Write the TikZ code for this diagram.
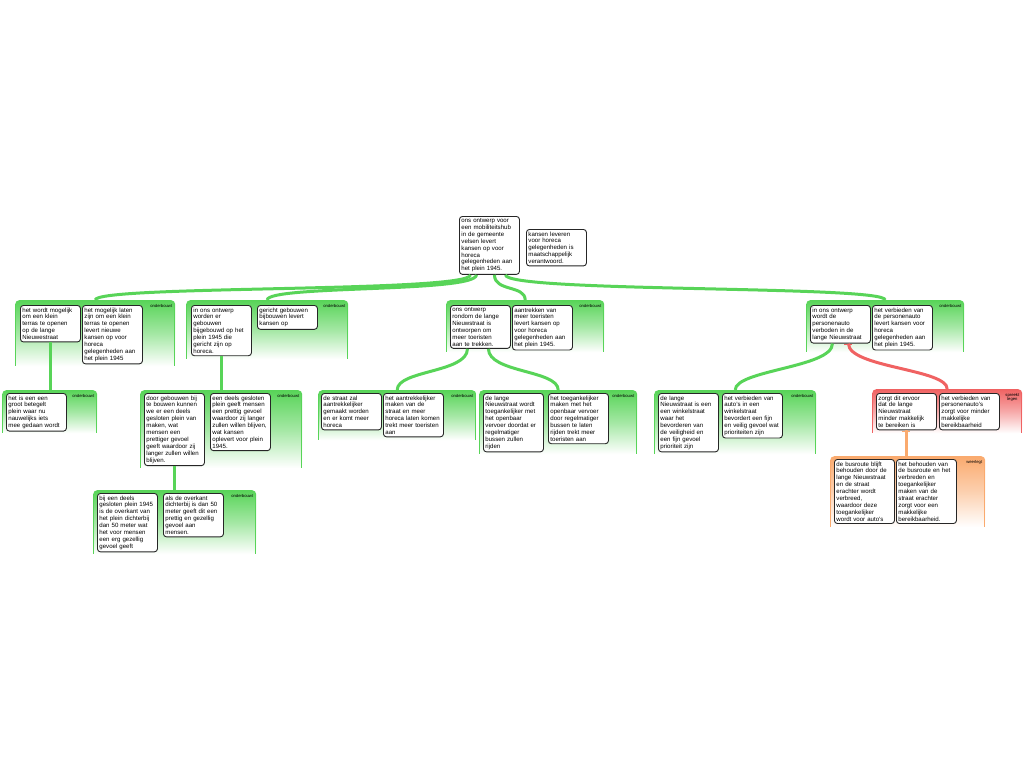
\documentclass[tikz,border=0pt]{standalone}
\usepackage{fontspec}
\setmainfont{Liberation Sans}
\definecolor{grn}{RGB}{88,212,88}
\definecolor{rd}{RGB}{240,98,98}
\definecolor{org}{RGB}{250,170,110}
\tikzset{
  box/.style={draw=black!85, line width=0.9pt, rounded corners=3pt, fill=white,
    inner xsep=2pt, inner ysep=2.2pt, text width=56pt, align=left, anchor=north west,
    font=\fontsize{6.1}{6.9}\selectfont},
  grp/.style={anchor=north west, rounded corners=4pt, inner sep=0pt,
    top color=#1, bottom color=white, middle color=#1!55},
  lbl/.style={font=\fontsize{4.2}{4.6}\selectfont, inner sep=0pt, align=center},
  conn/.style={draw=#1, line width=3pt},
  tick/.style={draw=#1, line width=1pt}
}
\newcommand\mkgrp[7]{%
  \node[grp=#6, minimum width=#4pt, minimum height=#5pt] (#1) at (#2,#3) {};
  \draw[#6, line width=1.2pt] ([xshift=0.6pt,yshift=-4pt]#1.north west) -- ([xshift=0.6pt]#1.south west)
    ([xshift=-0.6pt,yshift=-4pt]#1.north east) -- ([xshift=-0.6pt]#1.south east);
  \node[lbl, anchor=north east] (#1l) at ([xshift=-3pt,yshift=-4pt]#1.north east) {#7};
}
\begin{document}
\begin{tikzpicture}[x=1pt, y=-1pt]
\useasboundingbox[fill=white] (0,0) rectangle (1024,768);

% groups
\mkgrp{gA}{15}{300}{160}{66}{grn}{onderbouwt}
\mkgrp{gB}{186}{300}{162}{59}{grn}{onderbouwt}
\mkgrp{gC}{446}{300}{158}{52}{grn}{onderbouwt}
\mkgrp{gD}{806}{300}{158}{52}{grn}{onderbouwt}
\mkgrp{gE}{2}{390}{95}{43}{grn}{onderbouwt}
\mkgrp{gF}{140}{390}{162}{78}{grn}{onderbouwt}
\mkgrp{gG}{318}{390}{158}{50}{grn}{onderbouwt}
\mkgrp{gH}{479}{390}{158}{64}{grn}{onderbouwt}
\mkgrp{gI}{654}{390}{162}{64}{grn}{onderbouwt}
\mkgrp{gJ}{872}{389}{150}{44}{rd}{spreekt\\tegen}
\mkgrp{gK}{830}{456}{155}{71}{org}{weerlegt}
\mkgrp{gL}{93}{490}{163}{64}{grn}{onderbouwt}

% boxes
\node[box] (t1) at (459,216) {ons ontwerp voor\\een mobiliteitshub\\in de gemeente\\velsen levert\\kansen op voor\\horeca\\gelegenheden aan\\het plein 1945.};
\node[box] (t2) at (526,229) {kansen leveren\\voor horeca\\gelegenheden is\\maatschappelijk\\verantwoord.};

\node[box] (A1) at (20,305) {het wordt mogelijk\\om een klein\\terras te openen\\op de lange\\Nieuwestraat};
\node[box] (A2) at (82,305) {het mogelijk laten\\zijn om een klein\\terras te openen\\levert nieuwe\\kansen op voor\\horeca\\gelegenheden aan\\het plein 1945};
\node[box] (B1) at (191,305) {in ons ontwerp\\worden er\\gebouwen\\bijgebouwd op het\\plein 1945 die\\gericht zijn op\\horeca.};
\node[box] (B2) at (257,305) {gericht gebouwen\\bijbouwen levert\\kansen op};
\node[box] (C1) at (450,305) {ons ontwerp\\rondom de lange\\Nieuwstraat is\\ontworpen om\\meer toeristen\\aan te trekken.};
\node[box] (C2) at (512,305) {aantrekken van\\meer toeristen\\levert kansen op\\voor horeca\\gelegenheden aan\\het plein 1945.};
\node[box] (D1) at (810,305) {in ons ontwerp\\wordt de\\personenauto\\verboden in de\\lange Nieuwstraat};
\node[box] (D2) at (872,305) {het verbieden van\\de personenauto\\levert kansen voor\\horeca\\gelegenheden aan\\het plein 1945.};

\node[box] (E1) at (6,393) {het is een een\\groot betegelt\\plein waar nu\\nauwelijks iets\\mee gedaan wordt};
\node[box] (F1) at (144,393) {door gebouwen bij\\te bouwen kunnen\\we er een deels\\gesloten plein van\\maken, wat\\mensen een\\prettiger gevoel\\geeft waardoor zij\\langer zullen willen\\blijven.};
\node[box] (F2) at (210,393) {een deels gesloten\\plein geeft mensen\\een prettig gevoel\\waardoor zij langer\\zullen willen blijven,\\wat kansen\\oplevert voor plein\\1945.};
\node[box] (G1) at (321,393) {de straat zal\\aantrekkelijker\\gemaakt worden\\en er komt meer\\horeca};
\node[box] (G2) at (383,393) {het aantrekkelijker\\maken van de\\straat en meer\\horeca laten komen\\trekt meer toeristen\\aan};
\node[box] (H1) at (483,393) {de lange\\Nieuwstraat wordt\\toegankelijker met\\het openbaar\\vervoer doordat er\\regelmatiger\\bussen zullen\\rijden};
\node[box] (H2) at (548,393) {het toegankelijker\\maken met het\\openbaar vervoer\\door regelmatiger\\bussen te laten\\rijden trekt meer\\toeristen aan};
\node[box] (I1) at (658,393) {de lange\\Nieuwstraat is een\\een winkelstraat\\waar het\\bevorderen van\\de veiligheid en\\een fijn gevoel\\prioriteit zijn};
\node[box] (I2) at (722,393) {het verbieden van\\auto's in een\\winkelstraat\\bevordert een fijn\\en veilig gevoel wat\\prioriteiten zijn};
\node[box] (J1) at (876,393) {zorgt dit ervoor\\dat de lange\\Nieuwstraat\\minder makkelijk\\te bereiken is};
\node[box] (J2) at (939,393) {het verbieden van\\personenauto's\\zorgt voor minder\\makkelijke\\bereikbaarheid};
\node[box] (K1) at (834,459) {de busroute blijft\\behouden door de\\lange Nieuwstraat\\en de straat\\erachter wordt\\verbreed,\\waardoor deze\\toegankelijker\\wordt voor auto's};
\node[box] (K2) at (896,459) {het behouden van\\de busroute en het\\verbreden en\\toegankelijker\\maken van de\\straat erachter\\zorgt voor een\\makkelijke\\bereikbaarheid.};
\node[box] (L1) at (97,493) {bij een deels\\gesloten plein 1945\\is de overkant van\\het plein dichterbij\\dan 50 meter wat\\het voor mensen\\een erg gezellig\\gevoel geeft};
\node[box] (L2) at (163,493) {als de overkant\\dichterbij is dan 50\\meter geeft dit een\\prettig en gezellig\\gevoel aan\\mensen.};

% connectors from the top claim
\draw[conn=grn] ([xshift=-19pt]t1.south) .. controls +(0,18) and +(0,-15) .. (gA.north);
\draw[conn=grn] ([xshift=-13pt]t1.south) .. controls +(0,18) and +(0,-15) .. (gB.north);
\draw[conn=grn] ([xshift=5pt]t1.south) .. controls +(0,17) and +(0,-15) .. (gC.north);
\draw[conn=grn] ([xshift=16pt]t1.south) .. controls +(0,18) and +(0,-15) .. (gD.north);

% second level
\draw[conn=grn] (A1.south) -- (A1.south |- gE.north);
\draw[conn=grn] (B1.south) -- (B1.south |- gF.north);
\draw[conn=grn] (F1.south) -- (F1.south |- gL.north);
\draw[conn=grn] ([xshift=-13pt]C1.south) .. controls +(0,24) and +(0,-20) .. (gG.north);
\draw[conn=grn] ([xshift=8pt]C1.south) .. controls +(0,24) and +(0,-20) .. (gH.north);
\draw[conn=grn] ([xshift=-8pt]D1.south) .. controls +(0,24) and +(0,-20) .. (gI.north);
\draw[conn=rd] ([xshift=8pt]D1.south) .. controls +(0,24) and +(0,-20) .. (gJ.north);
\draw[tick=rd] ([xshift=4pt,yshift=-1pt]D1.south) -- ([xshift=12pt,yshift=-1pt]D1.south);
\draw[conn=org] (J1.south) -- (J1.south |- gK.north);
\draw[tick=org] ([xshift=-4pt,yshift=-1pt]J1.south) -- ([xshift=4pt,yshift=-1pt]J1.south);
\end{tikzpicture}
\end{document}
